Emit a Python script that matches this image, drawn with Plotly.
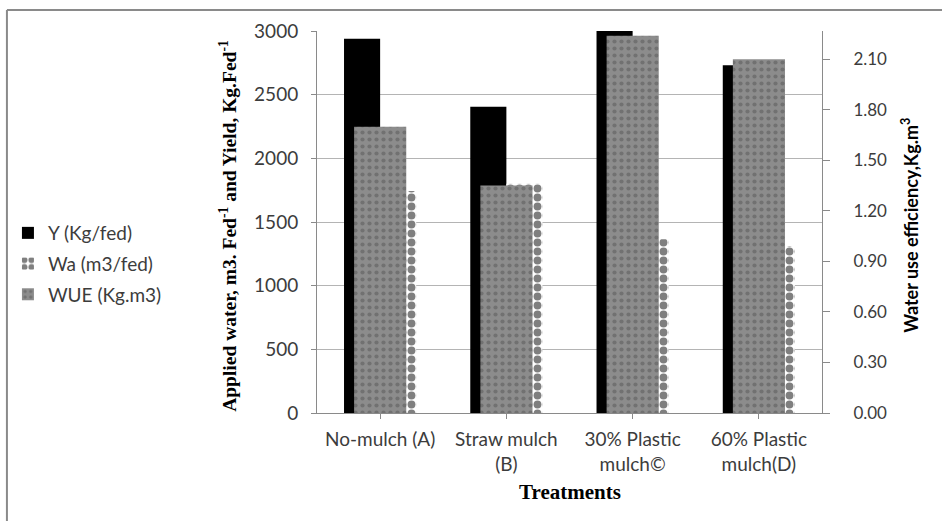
import plotly.graph_objects as go

# données
treatments = ["No-mulch (A)", "Straw mulch<br>(B)", "30% Plastic<br>mulch©", "60% Plastic<br>mulch(D)"]
yield_kg = [2940, 2405, 3000, 2731]
water_m3 = [1743, 1800, 1364, 1312]
wue = [1.70, 1.35, 2.24, 2.10]

left_ticks = [0, 500, 1000, 1500, 2000, 2500, 3000]
right_ticks = [0.0, 0.3, 0.6, 0.9, 1.2, 1.5, 1.8, 2.1]

FONT = "Lato"
SERIF = "Liberation Serif"
AXIS_GREY = "#8a8a8a"
TXT = "#3c3c3c"

x = list(range(len(treatments)))

fig = go.Figure()

# série principale (axe gauche)
fig.add_trace(go.Bar(
    x=x, y=yield_kg, name="Y (Kg/fed)",
    width=0.286, offset=-0.286,
    marker=dict(color="black", line=dict(width=0)),
    legendgroup="a",
))
fig.add_trace(go.Bar(
    x=x, y=water_m3, name="Wa (m3/fed)",
    width=0.286, offset=0.0,
    marker=dict(color="white", line=dict(width=0),
                pattern=dict(shape=".", fgcolor="black", bgcolor="white",
                             size=9, solidity=0.6)),
    legendgroup="b",
))
# série secondaire (axe droit), dessinée par-dessus
fig.add_trace(go.Bar(
    x=x, y=wue, name="WUE (Kg.m3)", yaxis="y2",
    width=0.413, offset=-0.206,
    marker=dict(color="#8c8c8c", line=dict(width=0),
                pattern=dict(shape=".", fgcolor="#555555", bgcolor="#8c8c8c",
                             size=7, solidity=0.28)),
    legendgroup="c",
))

fig.update_layout(
    template="plotly_white",
    width=942, height=521,
    margin=dict(l=317, r=120, t=31, b=108, autoexpand=False),
    paper_bgcolor="white", plot_bgcolor="white",
    barmode="overlay",
    font=dict(family=FONT, size=19, color=TXT),
    showlegend=True,
    legend=dict(x=-0.612, y=0.39, xanchor="left", yanchor="middle",
                font=dict(family=FONT, size=19, color=TXT),
                tracegroupgap=3, traceorder="grouped",
                bgcolor="rgba(0,0,0,0)"),
    xaxis=dict(
        tickmode="array", tickvals=x, ticktext=treatments,
        range=[-0.5, 3.5], automargin=False,
        showline=True, linecolor=AXIS_GREY, linewidth=1,
        ticks="outside", tickson="boundaries", ticklen=5, tickcolor=AXIS_GREY,
        ticklabelstandoff=4,
        showgrid=False,
        tickfont=dict(family=FONT, size=19, color=TXT),
    ),
    yaxis=dict(
        range=[0, 3000], tickvals=left_ticks, automargin=False,
        showline=True, linecolor=AXIS_GREY, linewidth=1,
        ticks="outside", ticklen=5, tickcolor=AXIS_GREY,
        ticklabelstandoff=9,
        showgrid=True, gridcolor="#b4b4b4", gridwidth=1,
        zeroline=False,
        tickfont=dict(family=FONT, size=19, color=TXT),
    ),
    yaxis2=dict(
        overlaying="y", side="right",
        range=[0, 2.268], tickvals=right_ticks, tickformat=".2f", automargin=False,
        showline=True, linecolor=AXIS_GREY, linewidth=1,
        ticks="outside", ticklen=7, tickcolor=AXIS_GREY,
        ticklabelstandoff=20,
        showgrid=False, zeroline=False,
        tickfont=dict(family=FONT, size=17, color=TXT),
    ),
    annotations=[
        dict(text="<b>Applied water, m3. Fed<sup>-1</sup> and Yield, Kg.Fed<sup>-1</sup></b>",
             xref="paper", yref="paper", x=(228 - 317) / 505, y=0.49, textangle=-90,
             xanchor="center", yanchor="middle",
             showarrow=False, font=dict(family=SERIF, size=19.5, color="black")),
        dict(text="<b>Water use efficiency,Kg.m<sup>3</sup></b>",
             xref="paper", yref="paper", x=(910 - 317) / 505, y=0.49, textangle=-90,
             xanchor="center", yanchor="middle",
             showarrow=False, font=dict(family=FONT, size=18, color="black")),
        dict(text="<b>Treatments</b>",
             xref="paper", yref="paper", x=0.5, y=(413 - 492) / 382,
             xanchor="center", yanchor="middle",
             showarrow=False, font=dict(family=SERIF, size=21, color="black")),
    ],
    shapes=[
        dict(type="line", xref="paper", yref="paper", x0=-0.614, x1=1.5, y0=1.055, y1=1.055,
             line=dict(color="#8a8a8a", width=2)),
        dict(type="line", xref="paper", yref="paper", x0=-0.614, x1=-0.614, y0=1.055, y1=-0.5,
             line=dict(color="#8a8a8a", width=2)),
    ],
)

fig.write_html("out.html", config={"displayModeBar": False},
               post_script="document.body.style.margin='0';")
